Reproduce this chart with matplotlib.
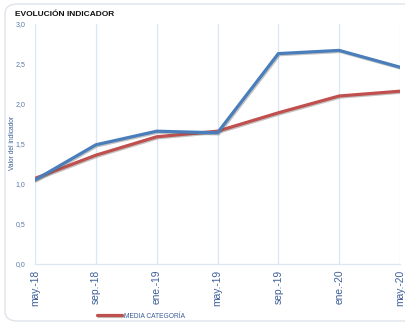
import matplotlib
matplotlib.use("Agg")
import matplotlib.pyplot as plt
import matplotlib.patheffects as pe
from matplotlib.patches import FancyBboxPatch

plt.rcParams['font.family'] = ['Liberation Sans', 'DejaVu Sans']

periods = ["may.-18", "sep.-18", "ene.-19", "may.-19", "sep.-19", "ene.-20", "may.-20"]
indicador = [1.05, 1.49, 1.66, 1.64, 2.63, 2.67, 2.46]
media_categoria = [1.07, 1.36, 1.59, 1.66, 1.89, 2.10, 2.16]
y_ticks = [0.0, 0.5, 1.0, 1.5, 2.0, 2.5, 3.0]
y_tick_labels = ["0,0", "0,5", "1,0", "1,5", "2,0", "2,5", "3,0"]

W, H = 405, 324
fig = plt.figure(figsize=(W / 100, H / 100), dpi=100)
fig.patch.set_facecolor("white")

# card frame
card = FancyBboxPatch((5 / W, 3 / H), 430 / W, 317 / H,
                      boxstyle="round,pad=0,rounding_size=0.03",
                      transform=fig.transFigure, facecolor="none",
                      edgecolor="#dfe4ec", linewidth=1.0, zorder=-1)
fig.patches.append(card)

ax = fig.add_axes([35 / W, 1 - 264 / H, 365 / W, 240 / H])
ax.set_facecolor("none")
ax.set_zorder(2)

x = list(range(len(periods)))
shadow = [pe.SimpleLineShadow(offset=(0.8, -0.8), shadow_color="#555555", alpha=0.35), pe.Normal()]
ax.plot(x, media_categoria, color="#c0504d", lw=2.3, solid_capstyle="round",
        path_effects=shadow, zorder=3, label="MEDIA CATEGORÍA")
ax.plot(x, indicador, color="#4a7ebb", lw=2.3, solid_capstyle="round",
        path_effects=shadow, zorder=4)

ax.set_xlim(0, len(periods) - 1)
ax.set_ylim(0, 3.0)
ax.set_xticks(x)
ax.set_xticklabels(periods, rotation=90, fontsize=7.4, color="#3d5f99")
ax.set_yticks(y_ticks)
ax.set_yticklabels(y_tick_labels, fontsize=5, color="#5a78a6")
ax.tick_params(axis="both", length=0, pad=4)
ax.tick_params(axis="y", pad=7)

ax.grid(axis="x", color="#dce6f2", lw=0.9)
for s in ["top", "right", "left"]:
    ax.spines[s].set_visible(False)
ax.spines["bottom"].set_color("#dce6f2")
ax.spines["bottom"].set_linewidth(0.9)

fig.text(13 / W, 1 - 143 / H, "Valor del indicador", fontsize=4.8, color="#3d5f99",
         rotation=90, ha="center", va="center")

fig.text(15 / W, 1 - 14 / H, "EVOLUCIÓN INDICADOR", fontsize=6, fontweight="bold",
         color="#111111", ha="left", va="center",
         family=['Liberation Sans Narrow', 'Liberation Sans', 'DejaVu Sans'])

leg = fig.legend(loc="center left", bbox_to_anchor=(94 / W, 1 - 316 / H), frameon=False,
                 fontsize=4.8, handlelength=3.8, handletextpad=0.3, borderaxespad=0)
for t in leg.get_texts():
    t.set_color("#3d5f99")

fig.savefig("out.png", dpi=100)
